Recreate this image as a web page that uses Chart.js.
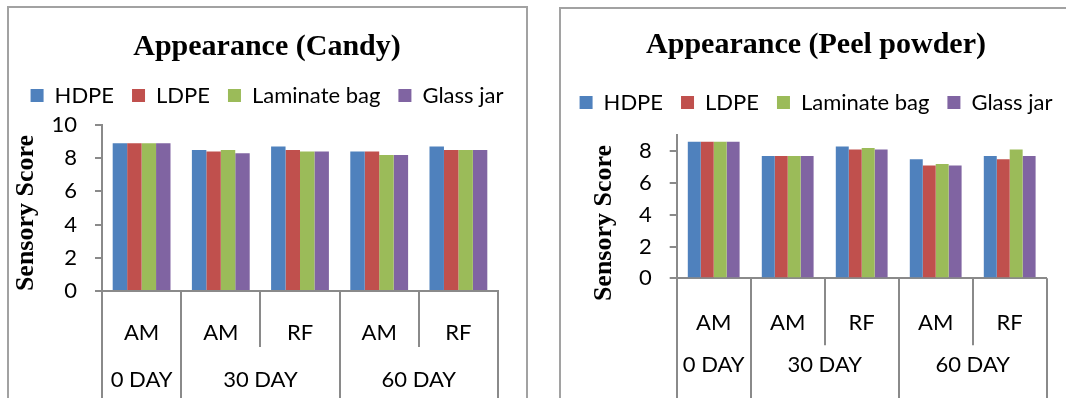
<!DOCTYPE html>
<html>
<head>
<meta charset="utf-8">
<script src="https://cdn.jsdelivr.net/npm/chart.js@4.4.1/dist/chart.umd.min.js"></script>
<style>
  html, body { margin: 0; padding: 0; background: #fff; overflow: hidden; }
  body { width: 1066px; height: 398px; position: relative; }
  .frame { position: absolute; border: 2px solid #a2a2a2; box-sizing: border-box; }
  #frameCandy { left: 7px; top: 6px; width: 521px; height: 420px; }
  #framePeel { left: 559px; top: 7px; width: 560px; height: 420px; }
  canvas { position: absolute; }
  #candy { left: 9px; top: 8px; }
  #peel { left: 558px; top: 9px; }
</style>
</head>
<body>
<div class="frame" id="frameCandy"></div>
<div class="frame" id="framePeel"></div>
<canvas id="candy" width="516" height="390"></canvas>
<canvas id="peel" width="516" height="389"></canvas>
<script>
// Storage conditions (lower row) and storage time groups (upper row)
const categories = ['AM', 'AM', 'RF', 'AM', 'RF'];
const dayGroups = ['0 DAY', '30 DAY', '60 DAY'];
const daySpans = [1, 2, 2];

const seriesNames = ['HDPE', 'LDPE', 'Laminate bag', 'Glass jar'];
const seriesColors = ['#4F81BD', '#C0504D', '#9BBB59', '#8064A2'];

// Appearance scores, candy
const candyHDPE = [8.9, 8.5, 8.7, 8.4, 8.7];
const candyLDPE = [8.9, 8.4, 8.5, 8.4, 8.5];
const candyLaminate = [8.9, 8.5, 8.4, 8.2, 8.5];
const candyGlass = [8.9, 8.3, 8.4, 8.2, 8.5];

// Appearance scores, peel powder
const peelHDPE = [8.6, 7.7, 8.3, 7.5, 7.7];
const peelLDPE = [8.6, 7.7, 8.1, 7.1, 7.5];
const peelLaminate = [8.6, 7.7, 8.2, 7.2, 8.1];
const peelGlass = [8.6, 7.7, 8.1, 7.1, 7.7];

const candyYMax = 10;
const peelYMax = 9;
const yStep = 2;

const axisGrey = '#8a8a8a';
const labelFont = { family: 'Lato', size: 22 };

Chart.defaults.font.family = 'Lato';
Chart.defaults.color = '#000';

// Draws the two-level category separators, the day group labels and the rotated y title
const categoryBands = {
  id: 'categoryBands',
  afterDraw(chart, args, opts) {
    const { ctx, chartArea } = chart;
    const x = chart.scales.x;
    const n = chart.data.labels.length;
    const groupEdges = [0];
    daySpans.forEach(s => groupEdges.push(groupEdges[groupEdges.length - 1] + s));
    ctx.save();
    ctx.strokeStyle = axisGrey;
    ctx.lineWidth = 2;
    for (let i = 0; i <= n; i++) {
      const px = Math.round(x.getPixelForValue(i - 0.5));
      const len = groupEdges.includes(i) ? opts.longLen : opts.shortLen;
      ctx.beginPath();
      ctx.moveTo(px, chartArea.bottom);
      ctx.lineTo(px, chartArea.bottom + len);
      ctx.stroke();
    }
    ctx.fillStyle = '#000';
    ctx.font = `${labelFont.size}px ${labelFont.family}`;
    ctx.textAlign = 'center';
    ctx.textBaseline = 'middle';
    dayGroups.forEach((g, k) => {
      const a = x.getPixelForValue(groupEdges[k] - 0.5);
      const b = x.getPixelForValue(groupEdges[k + 1] - 0.5);
      ctx.fillText(g, (a + b) / 2, chartArea.bottom + opts.dayOffset);
    });
    ctx.translate(opts.titleX, opts.titleY);
    ctx.rotate(-Math.PI / 2);
    ctx.font = 'bold 26px "Liberation Serif"';
    ctx.fillText(opts.yTitle, 0, 0);
    ctx.restore();
  }
};

function makeChart(id, title, values, yMax, geo) {
  return new Chart(document.getElementById(id), {
    type: 'bar',
    data: {
      labels: categories,
      datasets: seriesNames.map((name, i) => ({
        label: name,
        data: values[i],
        xAxisID: 'x',
        yAxisID: 'y',
        backgroundColor: seriesColors[i],
        borderWidth: 0,
        barPercentage: 1,
        categoryPercentage: geo.catPct
      }))
    },
    options: {
      responsive: false,
      animation: false,
      layout: { padding: 0 },
      plugins: {
        title: {
          display: true,
          text: title,
          color: '#000',
          font: { family: 'Liberation Serif', size: 30, weight: 'bold', lineHeight: 1.2 },
          padding: { top: geo.titleTop, bottom: geo.titleBottom }
        },
        legend: {
          display: true,
          position: 'top',
          labels: {
            font: labelFont,
            color: '#000',
            boxWidth: 13,
            boxHeight: 13,
            padding: 18
          }
        },
        tooltip: { enabled: false },
        categoryBands: {
          shortLen: geo.shortLen,
          longLen: geo.longLen,
          dayOffset: geo.dayOffset,
          titleX: geo.titleX,
          titleY: geo.titleY,
          yTitle: 'Sensory Score'
        }
      },
      scales: {
        x: {
          grid: { display: false, drawTicks: false },
          border: { display: true, color: axisGrey, width: 2 },
          ticks: { font: labelFont, color: '#000', padding: geo.xPad, maxRotation: 0, autoSkip: false },
          afterFit: s => { s.height = geo.xHeight; }
        },
        y: {
          min: 0,
          max: yMax,
          grid: { display: true, drawOnChartArea: false, drawTicks: true, tickLength: 7, color: axisGrey, lineWidth: 2 },
          border: { display: true, color: axisGrey, width: 2 },
          ticks: { stepSize: yStep, includeBounds: false, autoSkip: false, font: labelFont, color: '#000', padding: 18 },
          afterFit: s => { s.width = geo.yWidth; }
        },
        // empty spacer axes: keep room under the legend and right of the plot
        gapTop: {
          type: 'category',
          position: 'top',
          labels: [''],
          display: true,
          grid: { display: false, drawTicks: false },
          border: { display: false },
          ticks: { display: false },
          afterFit: s => { s.height = geo.gap; }
        },
        gapRight: {
          type: 'linear',
          position: 'right',
          display: true,
          grid: { display: false, drawTicks: false },
          border: { display: false },
          ticks: { display: false },
          afterFit: s => { s.width = geo.padRight; }
        }
      }
    },
    plugins: [categoryBands]
  });
}

makeChart('candy', 'Appearance (Candy)',
  [candyHDPE, candyLDPE, candyLaminate, candyGlass], candyYMax, {
    catPct: 0.73, padRight: 27, titleTop: 21.5, titleBottom: 1, gap: 8.5,
    yWidth: 93, xHeight: 107, xPad: 29,
    shortLen: 56, longLen: 112, dayOffset: 89, titleX: 17, titleY: 205
  });

makeChart('peel', 'Appearance (Peel powder)',
  [peelHDPE, peelLDPE, peelLaminate, peelGlass], peelYMax, {
    catPct: 0.70, padRight: 27.3, titleTop: 18.5, titleBottom: 10, gap: 11.8,
    yWidth: 118.7, xHeight: 119.7, xPad: 31,
    shortLen: 67, longLen: 120, dayOffset: 87, titleX: 46, titleY: 214
  });
</script>
</body>
</html>
